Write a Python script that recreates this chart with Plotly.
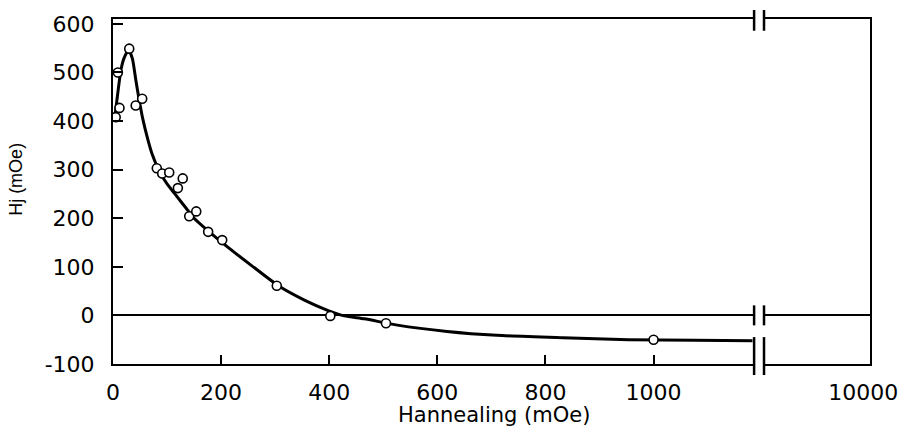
import plotly.graph_objects as go

# measured points (Hannealing mOe, Hj mOe)
pts_x = [5, 9, 12, 30, 42, 54, 81, 91, 104, 120, 129, 141, 154, 176, 202, 303, 402, 505, 1000]
pts_y = [408, 500, 427, 549, 432, 446, 303, 292, 294, 262, 282, 204, 214, 172, 155, 61, -1, -16, -50]

# fitted curve (traced)
fit_x = [3, 9, 15, 21, 29, 36, 42, 48, 55, 64, 73, 86, 101, 116, 135, 150, 177, 214, 257, 306,
         355, 398, 428, 465, 526, 618, 710, 832, 954, 1076, 1183]
fit_y = [405, 459, 507, 531, 546, 528, 486, 446, 405, 364, 330, 296, 269, 248, 221, 200, 173, 139,
         102, 61, 31, 10, -1, -7, -20, -33, -41, -46, -50, -51, -52]

x_ticks = [0, 200, 400, 600, 800, 1000]
x_labels = ["0", "200", "400", "600", "800", "1000"]
x2_ticks = [10000]
x2_labels = ["10000"]
y_ticks = [-100, 0, 100, 200, 300, 400, 500, 600]
y_labels = ["-100", "0", "100", "200", "300", "400", "500", "600"]

TICKFONT = dict(family="DejaVu Sans", size=22, color="black")

fig = go.Figure()
fig.add_trace(go.Scatter(x=fit_x, y=fit_y, mode="lines",
                         line=dict(color="black", width=3, shape="spline", smoothing=0.6),
                         xaxis="x", yaxis="y", showlegend=False, hoverinfo="skip"))
fig.add_trace(go.Scatter(x=pts_x, y=pts_y, mode="markers",
                         marker=dict(symbol="circle", size=9, color="white",
                                     line=dict(color="black", width=1.6)),
                         xaxis="x", yaxis="y", showlegend=False))
# empty trace to activate right segment
fig.add_trace(go.Scatter(x=[10000], y=[None], mode="markers", xaxis="x2", yaxis="y2",
                         showlegend=False, hoverinfo="skip"))

L, R = 0.8469, 0.860
axis_common = dict(showline=True, linecolor="black", linewidth=2, showgrid=False)

fig.update_layout(
    width=910, height=447,
    margin=dict(l=113, r=32, t=16, b=83),
    paper_bgcolor="white", plot_bgcolor="white",
    xaxis=dict(domain=[0, L], range=[0, 1186], anchor="y", mirror=True,
               tickvals=x_ticks, ticktext=x_labels, ticks="inside", ticklen=9, tickwidth=1.5,
               tickcolor="black", tickfont=TICKFONT, zeroline=False, ticklabelstandoff=8,
               **axis_common),
    yaxis=dict(domain=[0, 1], range=[-100, 610], anchor="x",
               tickvals=y_ticks, ticktext=y_labels, ticks="inside", ticklen=10, tickwidth=1.5,
               tickcolor="black", tickfont=TICKFONT, zeroline=True, zerolinecolor="black",
               zerolinewidth=1.5, ticklabelstandoff=12, **axis_common),
    xaxis2=dict(domain=[R, 1], range=[1200, 10600], anchor="y2", mirror=True,
                tickvals=x2_ticks, ticktext=x2_labels, ticks="", tickfont=TICKFONT,
                zeroline=False, ticklabelstandoff=8, **axis_common),
    yaxis2=dict(domain=[0, 1], range=[-100, 610], anchor="x2", side="right",
                showticklabels=False, ticks="", zeroline=True, zerolinecolor="black",
                zerolinewidth=1.5, **axis_common),
)

# axis-break marks
def brk(y0, y1):
    for xx in (L, R):
        fig.add_shape(type="line", xref="paper", yref="paper", x0=xx, x1=xx, y0=y0, y1=y1,
                      line=dict(color="black", width=2.5))

brk(0.966, 1.026)   # top border
brk(0.112, 0.170)   # zero line
brk(-0.032, 0.078)  # bottom axis

fig.add_annotation(text="Hannealing (mOe)", xref="paper", yref="paper", x=0.503, y=-0.148,
                   showarrow=False, font=dict(family="DejaVu Sans", size=21, color="black"),
                   xanchor="center", yanchor="middle")
fig.add_annotation(text="Hj (mOe)", xref="paper", yref="paper", x=-0.128, y=0.534,
                   showarrow=False, textangle=-90,
                   font=dict(family="Liberation Sans", size=18, color="black"),
                   xanchor="center", yanchor="middle")

fig.write_html("out.html", config={"displayModeBar": False},
               post_script="document.body.style.margin='0px';")
